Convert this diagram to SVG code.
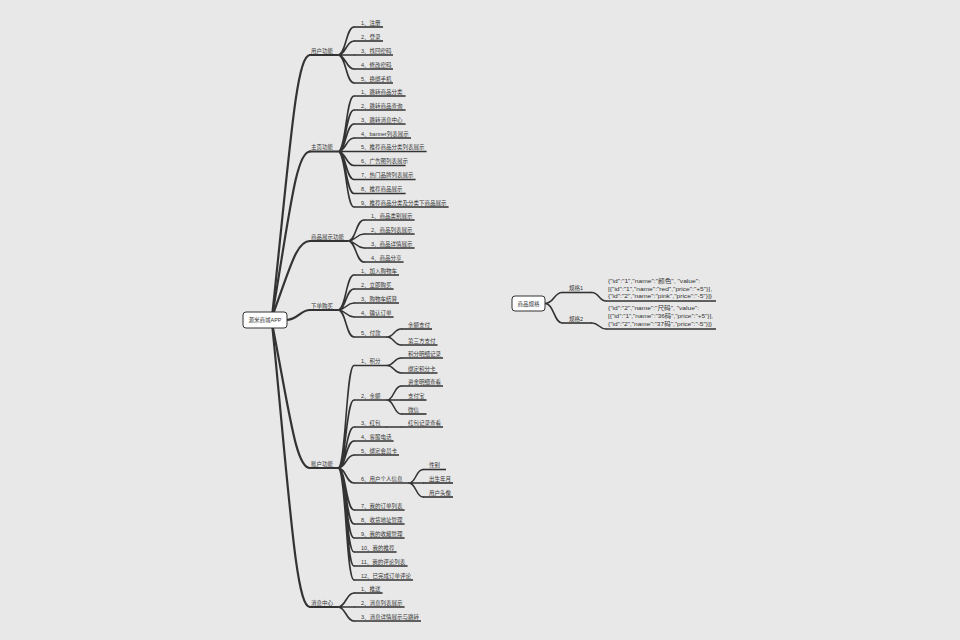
<svg xmlns="http://www.w3.org/2000/svg" width="960" height="640" viewBox="0 0 960 640">
<style>
text{font-family:"Liberation Sans","Noto Sans CJK SC",sans-serif;font-size:5.5px;fill:#333}
.j{font-size:6px}
.c1{fill:none;stroke:#333;stroke-width:2.2;stroke-linecap:round}
.c2{fill:none;stroke:#333;stroke-width:1.6;stroke-linecap:round}
.u1{stroke:#333;stroke-width:2}
.u2{stroke:#333;stroke-width:1.6}
.box{fill:#fff;stroke:#333;stroke-width:1}
</style>
<rect width="960" height="640" fill="#e8e8e8"/>
<g id="connectors">
<path class="c1" d="M272,317 C290,149.7 296,55 310,55"/>
<path class="c1" d="M272,317 C290,211.5 296,151.5 310,151.5"/>
<path class="c1" d="M272,317 C290,268.7 296,241 310,241"/>
<path class="c1" d="M286,320 C298,320 300,310 310,310"/>
<path class="c1" d="M272,323 C290,415.4 296,468 310,468"/>
<path class="c1" d="M272,323 C290,504.4 296,607 310,607"/>
<path class="c2" d="M338,55 C346,55 346,27 354,27 M338,55 C346,55 346,41 354,41 M338,55 L354,55 M338,55 C346,55 346,69 354,69 M338,55 C346,55 346,83 354,83"/>
<path class="c2" d="M338,151.5 C346,151.5 346,96 354,96 M338,151.5 C346,151.5 346,110 354,110 M338,151.5 C346,151.5 346,124 354,124 M338,151.5 C346,151.5 346,138 354,138 M338,151.5 L354,151.5 M338,151.5 C346,151.5 346,165.5 354,165.5 M338,151.5 C346,151.5 346,179.5 354,179.5 M338,151.5 C346,151.5 346,193.5 354,193.5 M338,151.5 C346,151.5 346,207 354,207"/>
<path class="c2" d="M348,241 C356,241 356,220 364,220 M348,241 C356,241 356,234 364,234 M348,241 C356,241 356,248 364,248 M348,241 C356,241 356,262 364,262"/>
<path class="c2" d="M338,310 C346,310 346,275 354,275 M338,310 C346,310 346,289 354,289 M338,310 C346,310 346,303 354,303 M338,310 C346,310 346,317 354,317 M338,310 C346,310 346,337 354,337"/>
<path class="c2" d="M387,337 C394,337 394,329 401,329 M387,337 C394,337 394,345 401,345"/>
<path class="c2" d="M338,468 C346,468 346,365.5 354,365.5 M338,468 C346,468 346,400 354,400 M338,468 C346,468 346,427 354,427 M338,468 C346,468 346,441 354,441 M338,468 C346,468 346,455 354,455 M338,468 C346,468 346,483 354,483 M338,468 C346,468 346,510 354,510 M338,468 C346,468 346,524 354,524 M338,468 C346,468 346,538 354,538 M338,468 C346,468 346,552 354,552 M338,468 C346,468 346,566 354,566 M338,468 C346,468 346,580 354,580"/>
<path class="c2" d="M387,365.5 C394,365.5 394,358 401,358 M387,365.5 C394,365.5 394,373 401,373"/>
<path class="c2" d="M387,400 C394,400 394,386 401,386 M387,400 L401,400 M387,400 C394,400 394,414 401,414"/>
<path class="c2" d="M387,427 L401,427"/>
<path class="c2" d="M409,483 C416,483 416,469.5 423,469.5 M409,483 L423,483 M409,483 C416,483 416,497 423,497"/>
<path class="c2" d="M338,607 C346,607 346,593 354,593 M338,607 L354,607 M338,607 C346,607 346,621 354,621"/>
<path class="c2" d="M545,303.5 C554,303.5 554,292.5 562,292.5 M545,303.5 C554,303.5 554,323 562,323"/>
<path class="c2" d="M592,292.5 C599,292.5 599,301 606,301 M592,323 C599,323 599,329 606,329"/>
</g>
<g id="root"><rect class="box" x="243" y="312" width="44" height="16" rx="3"/><text x="265" y="322" text-anchor="middle">源米商城APP</text></g>
<g id="n-user"><line class="u1" x1="309" y1="55" x2="338" y2="55"/><text x="311" y="52.8">用户功能</text></g>
<g id="n-user-1"><line class="u2" x1="354" y1="27" x2="383" y2="27"/><text x="361" y="24.8">1、注册</text></g>
<g id="n-user-2"><line class="u2" x1="354" y1="41" x2="383" y2="41"/><text x="361" y="38.8">2、登录</text></g>
<g id="n-user-3"><line class="u2" x1="354" y1="55" x2="393" y2="55"/><text x="361" y="52.8">3、找回密码</text></g>
<g id="n-user-4"><line class="u2" x1="354" y1="69" x2="393" y2="69"/><text x="361" y="66.8">4、修改密码</text></g>
<g id="n-user-5"><line class="u2" x1="354" y1="83" x2="393" y2="83"/><text x="361" y="80.8">5、换绑手机</text></g>
<g id="n-home"><line class="u1" x1="309" y1="151.5" x2="338" y2="151.5"/><text x="311" y="149.3">主页功能</text></g>
<g id="n-home-1"><line class="u2" x1="354" y1="96" x2="405.6" y2="96"/><text x="361" y="93.8">1、跳转商品分类</text></g>
<g id="n-home-2"><line class="u2" x1="354" y1="110" x2="405.6" y2="110"/><text x="361" y="107.8">2、跳转商品查询</text></g>
<g id="n-home-3"><line class="u2" x1="354" y1="124" x2="405.6" y2="124"/><text x="361" y="121.8">3、跳转消息中心</text></g>
<g id="n-home-4"><line class="u2" x1="354" y1="138" x2="411" y2="138"/><text x="361" y="135.8">4、banner列表展示</text></g>
<g id="n-home-5"><line class="u2" x1="354" y1="151.5" x2="426.6" y2="151.5"/><text x="361" y="149.3">5、推荐商品分类列表展示</text></g>
<g id="n-home-6"><line class="u2" x1="354" y1="165.5" x2="405.6" y2="165.5"/><text x="361" y="163.3">6、广告图列表展示</text></g>
<g id="n-home-7"><line class="u2" x1="354" y1="179.5" x2="415.6" y2="179.5"/><text x="361" y="177.3">7、热门品牌列表展示</text></g>
<g id="n-home-8"><line class="u2" x1="354" y1="193.5" x2="405.6" y2="193.5"/><text x="361" y="191.3">8、推荐商品展示</text></g>
<g id="n-home-9"><line class="u2" x1="354" y1="207" x2="448.6" y2="207"/><text x="361" y="204.8">9、推荐商品分类及分类下商品展示</text></g>
<g id="n-goods"><line class="u1" x1="309" y1="241" x2="348" y2="241"/><text x="311" y="238.8">商品展示功能</text></g>
<g id="n-goods-1"><line class="u2" x1="364" y1="220" x2="414.6" y2="220"/><text x="371" y="217.8">1、商品类别展示</text></g>
<g id="n-goods-2"><line class="u2" x1="364" y1="234" x2="414.6" y2="234"/><text x="371" y="231.8">2、商品列表展示</text></g>
<g id="n-goods-3"><line class="u2" x1="364" y1="248" x2="414.6" y2="248"/><text x="371" y="245.8">3、商品详情展示</text></g>
<g id="n-goods-4"><line class="u2" x1="364" y1="262" x2="403.6" y2="262"/><text x="371" y="259.8">4、商品分享</text></g>
<g id="n-order"><line class="u1" x1="309" y1="310" x2="338" y2="310"/><text x="311" y="307.8">下单购买</text></g>
<g id="n-order-1"><line class="u2" x1="354" y1="275" x2="399" y2="275"/><text x="361" y="272.8">1、加入购物车</text></g>
<g id="n-order-2"><line class="u2" x1="354" y1="289" x2="393.6" y2="289"/><text x="361" y="286.8">2、立即购买</text></g>
<g id="n-order-3"><line class="u2" x1="354" y1="303" x2="399" y2="303"/><text x="361" y="300.8">3、购物车结算</text></g>
<g id="n-order-4"><line class="u2" x1="354" y1="317" x2="393.6" y2="317"/><text x="361" y="314.8">4、确认订单</text></g>
<g id="n-order-5"><line class="u2" x1="354" y1="337" x2="387" y2="337"/><text x="361" y="334.8">5、付款</text></g>
<g id="n-pay-1"><line class="u2" x1="401" y1="329" x2="432" y2="329"/><text x="408" y="326.8">余额支付</text></g>
<g id="n-pay-2"><line class="u2" x1="401" y1="345" x2="437.5" y2="345"/><text x="408" y="342.8">第三方支付</text></g>
<g id="n-account"><line class="u1" x1="309" y1="468" x2="338" y2="468"/><text x="311" y="465.8">账户功能</text></g>
<g id="n-acc-1"><line class="u2" x1="354" y1="365.5" x2="387" y2="365.5"/><text x="361" y="363.3">1、积分</text></g>
<g id="n-acc-1a"><line class="u2" x1="401" y1="358" x2="443" y2="358"/><text x="408" y="355.8">积分明细记录</text></g>
<g id="n-acc-1b"><line class="u2" x1="401" y1="373" x2="437.5" y2="373"/><text x="408" y="370.8">绑定积分卡</text></g>
<g id="n-acc-2"><line class="u2" x1="354" y1="400" x2="387" y2="400"/><text x="361" y="397.8">2、余额</text></g>
<g id="n-acc-2a"><line class="u2" x1="401" y1="386" x2="443" y2="386"/><text x="408" y="383.8">资金明细查看</text></g>
<g id="n-acc-2b"><line class="u2" x1="401" y1="400" x2="426.5" y2="400"/><text x="408" y="397.8">支付宝</text></g>
<g id="n-acc-2c"><line class="u2" x1="401" y1="414" x2="426.5" y2="414"/><text x="408" y="411.8">微信</text></g>
<g id="n-acc-3"><line class="u2" x1="354" y1="427" x2="387" y2="427"/><text x="361" y="424.8">3、红包</text></g>
<g id="n-acc-3a"><line class="u2" x1="401" y1="427" x2="443" y2="427"/><text x="408" y="424.8">红包记录查看</text></g>
<g id="n-acc-4"><line class="u2" x1="354" y1="441" x2="393.6" y2="441"/><text x="361" y="438.8">4、客服电话</text></g>
<g id="n-acc-5"><line class="u2" x1="354" y1="455" x2="399" y2="455"/><text x="361" y="452.8">5、绑定会员卡</text></g>
<g id="n-acc-6"><line class="u2" x1="354" y1="483" x2="409" y2="483"/><text x="361" y="480.8">6、用户个人信息</text></g>
<g id="n-acc-6a"><line class="u2" x1="423" y1="469.5" x2="446" y2="469.5"/><text x="429" y="467.3">性别</text></g>
<g id="n-acc-6b"><line class="u2" x1="423" y1="483" x2="453" y2="483"/><text x="429" y="480.8">出生年月</text></g>
<g id="n-acc-6c"><line class="u2" x1="423" y1="497" x2="453" y2="497"/><text x="429" y="494.8">用户头像</text></g>
<g id="n-acc-7"><line class="u2" x1="354" y1="510" x2="404.6" y2="510"/><text x="361" y="507.8">7、我的订单列表</text></g>
<g id="n-acc-8"><line class="u2" x1="354" y1="524" x2="404.6" y2="524"/><text x="361" y="521.8">8、收货地址管理</text></g>
<g id="n-acc-9"><line class="u2" x1="354" y1="538" x2="404.6" y2="538"/><text x="361" y="535.8">9、我的收藏管理</text></g>
<g id="n-acc-10"><line class="u2" x1="354" y1="552" x2="396.6" y2="552"/><text x="361" y="549.8">10、我的推荐</text></g>
<g id="n-acc-11"><line class="u2" x1="354" y1="566" x2="407.6" y2="566"/><text x="361" y="563.8">11、我的评论列表</text></g>
<g id="n-acc-12"><line class="u2" x1="354" y1="580" x2="413" y2="580"/><text x="361" y="577.8">12、已完成订单评论</text></g>
<g id="n-msg"><line class="u1" x1="309" y1="607" x2="338" y2="607"/><text x="311" y="604.8">消息中心</text></g>
<g id="n-msg-1"><line class="u2" x1="354" y1="593" x2="382.6" y2="593"/><text x="361" y="590.8">1、推送</text></g>
<g id="n-msg-2"><line class="u2" x1="354" y1="607" x2="404.6" y2="607"/><text x="361" y="604.8">2、消息列表展示</text></g>
<g id="n-msg-3"><line class="u2" x1="354" y1="621" x2="421" y2="621"/><text x="361" y="618.8">3、消息详情展示与跳转</text></g>
<g id="spec"><rect class="box" x="512" y="296" width="33" height="15" rx="3"/><text x="528.5" y="305.5" text-anchor="middle">商品规格</text></g>
<g id="spec-1"><line class="u2" x1="562" y1="292.5" x2="592" y2="292.5"/><text x="569" y="290.3">规格1</text></g>
<g id="spec-2"><line class="u2" x1="562" y1="323" x2="592" y2="323"/><text x="569" y="320.8">规格2</text></g>
<g id="spec-1-value"><line class="u2" x1="606" y1="301" x2="716" y2="301"/>
<text class="j" x="608" y="283.3" textLength="92" lengthAdjust="spacingAndGlyphs">{"id":"1","name":"颜色", "value":</text>
<text class="j" x="608" y="290.8" textLength="104" lengthAdjust="spacingAndGlyphs">[{"id":"1","name":"red","price":"+5"}],</text>
<text class="j" x="608" y="298.3" textLength="104" lengthAdjust="spacingAndGlyphs">{"id":"2","name":"pink","price":"-5"}]}</text></g>
<g id="spec-2-value"><line class="u2" x1="606" y1="329" x2="716" y2="329"/>
<text class="j" x="608" y="310.3" textLength="91" lengthAdjust="spacingAndGlyphs">{"id":"2","name":"尺码", "value":</text>
<text class="j" x="608" y="318" textLength="105" lengthAdjust="spacingAndGlyphs">[{"id":"1","name":"36码","price":"+5"}],</text>
<text class="j" x="608" y="325.8" textLength="104" lengthAdjust="spacingAndGlyphs">{"id":"2","name":"37码","price":"-5"}]}</text></g>
</svg>
